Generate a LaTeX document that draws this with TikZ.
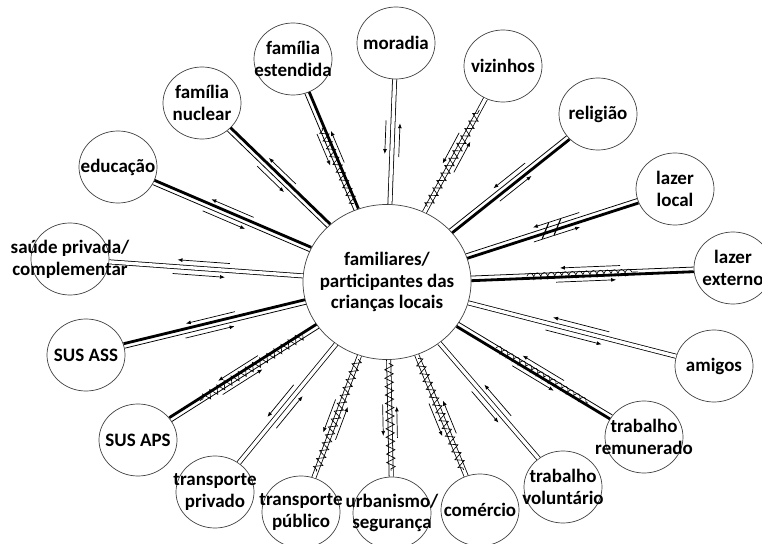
\documentclass[tikz,border=0pt]{standalone}
\usepackage{fontspec}
\setmainfont{Carlito}
\usetikzlibrary{calc,arrows.meta,shapes.geometric,decorations.pathmorphing}

\begin{document}
\begin{tikzpicture}[x=0.025cm, y=-0.025cm,
  every node/.style={font=\bfseries\fontsize{13.5}{15.5}\selectfont, align=center},
  sat/.style={ellipse, draw=black!75, line width=.5pt, minimum width=1.95cm, minimum height=1.8cm, inner sep=0pt},
  fina/.style={line width=.55pt},
  grossa/.style={line width=2pt},
  dupla/.style={line width=.55pt, double, double distance=2.4pt},
  fluxo/.style={line width=.5pt, -{Latex[length=3.5pt,width=2.8pt]}},
  serra/.style={line width=.45pt, decorate, decoration={zigzag, amplitude=3pt, segment length=6pt}},
  mola/.style={line width=.45pt, decorate, decoration={coil, amplitude=2.2pt, segment length=5pt}}]
  \useasboundingbox (0,0) rectangle (762,544);

  % centro
  \node[ellipse, draw=black!75, line width=.5pt, minimum width=4.2cm, minimum height=3.875cm] (c) at (387,282) {};
  \node (c-txt) at (c) {familiares/\\participantes das\\crianças locais};

  % satelites
  \foreach \s/\xy/\txt in {fnuc/{202,103}/{família\\nuclear}, fest/{293,59}/{família\\estendida},
      mor/{396,43}/moradia, viz/{503,66}/vizinhos, rel/{598,114}/religião,
      llocal/{675,189}/{lazer\\local}, lext/{733,268}/{lazer\\externo}, ami/{714,366}/amigos,
      trem/{644,437}/{trabalho\\remunerado}, tvol/{563,487}/{trabalho\\voluntário},
      com/{480,510}/comércio, urb/{392,513}/{urbanismo/\\segurança},
      tpub/{301,512}/{transporte\\público}, tpriv/{215,492}/{transporte\\privado},
      aps/{138,440}/SUS APS, ass/{86,355}/SUS ASS,
      sau/{70,259}/{saúde privada/\\complementar}, edu/{118,167}/educação}
  {
    \node[sat] (\s) at (\xy) {};
    \node (\s-txt) at (\s) {\txt};
  }

  % ligacoes fracas (duplas)
  \foreach \s in {mor,viz,ami,tvol,com,urb,tpub,tpriv,sau}
    \draw[dupla] (c) -- (\s);

  % ligacoes fortes
  \foreach \s in {fnuc,fest,rel,llocal,lext,trem,aps,ass,edu} {
    \path (c) -- (\s) coordinate[pos=0] (a) coordinate[pos=1] (b);
    \draw[fina] ($(a)!1.8pt!90:(b)$) -- ($(b)!1.8pt!-90:(a)$);
    \draw[grossa] ($(a)!1.5pt!-90:(b)$) -- ($(b)!1.5pt!90:(a)$);
  }

  % estresse
  \foreach \s/\ini/\fim in {fest/.05/.7, viz/.05/.9, com/.03/.95, urb/.03/.95, tpub/.03/.95, aps/.1/.8} {
    \path (c) -- (\s) coordinate[pos=\ini] (z1) coordinate[pos=\fim] (z2);
    \draw[serra] (z1) -- (z2);
  }
  \foreach \s/\ini/\fim in {lext/.25/.75, trem/.25/.85} {
    \path (c) -- (\s) coordinate[pos=\ini] (z1) coordinate[pos=\fim] (z2);
    \draw[mola] (z1) -- (z2);
  }

  % ruptura
  \path (c) -- (llocal) coordinate[pos=.46] (t1) coordinate[pos=.53] (t2);
  \foreach \t in {t1,t2}
    \draw[line width=.8pt] ($(\t)!6pt!50:(llocal)$) -- ($(\t)!6pt!-130:(llocal)$);

  % fluxo de energia
  \foreach \s in {fnuc,fest,mor,viz,rel,llocal,lext,ami,trem,tvol,com,urb,tpub,tpriv,aps,ass,sau,edu} {
    \path (c) -- (\s) coordinate[pos=0] (a) coordinate[pos=1] (b);
    \coordinate (p1) at ($(a)!5pt!90:(b)$); \coordinate (p2) at ($(b)!5pt!-90:(a)$);
    \coordinate (m1) at ($(a)!5pt!-90:(b)$); \coordinate (m2) at ($(b)!5pt!90:(a)$);
    \draw[fluxo] ($(p2)!.33!(p1)$) -- ($(p2)!.6!(p1)$);
    \draw[fluxo] ($(m1)!.38!(m2)$) -- ($(m1)!.65!(m2)$);
  }
\end{tikzpicture}
\end{document}
